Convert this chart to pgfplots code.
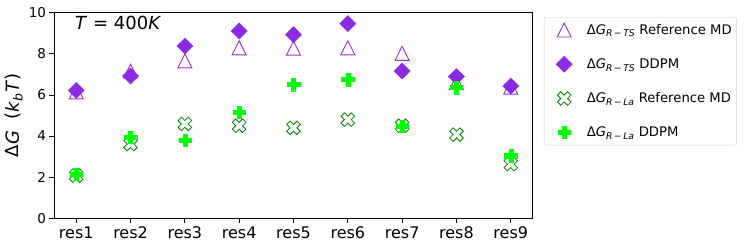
\documentclass[border=0pt]{standalone}
\usepackage{fontspec}
\setmainfont{DejaVu Sans}
\usepackage{pgfplots}
\pgfplotsset{compat=1.18}

\definecolor{tri}{RGB}{153,50,204}
\definecolor{dia}{RGB}{138,43,226}
\definecolor{xg}{RGB}{0,128,0}
\definecolor{pl}{RGB}{0,255,0}

\pgfdeclareplotmark{Pfill}{%
  \pgfpathmoveto{\pgfqpoint{-.3333\pgfplotmarksize}{-\pgfplotmarksize}}%
  \pgfpathlineto{\pgfqpoint{.3333\pgfplotmarksize}{-\pgfplotmarksize}}%
  \pgfpathlineto{\pgfqpoint{.3333\pgfplotmarksize}{-.3333\pgfplotmarksize}}%
  \pgfpathlineto{\pgfqpoint{\pgfplotmarksize}{-.3333\pgfplotmarksize}}%
  \pgfpathlineto{\pgfqpoint{\pgfplotmarksize}{.3333\pgfplotmarksize}}%
  \pgfpathlineto{\pgfqpoint{.3333\pgfplotmarksize}{.3333\pgfplotmarksize}}%
  \pgfpathlineto{\pgfqpoint{.3333\pgfplotmarksize}{\pgfplotmarksize}}%
  \pgfpathlineto{\pgfqpoint{-.3333\pgfplotmarksize}{\pgfplotmarksize}}%
  \pgfpathlineto{\pgfqpoint{-.3333\pgfplotmarksize}{.3333\pgfplotmarksize}}%
  \pgfpathlineto{\pgfqpoint{-\pgfplotmarksize}{.3333\pgfplotmarksize}}%
  \pgfpathlineto{\pgfqpoint{-\pgfplotmarksize}{-.3333\pgfplotmarksize}}%
  \pgfpathlineto{\pgfqpoint{-.3333\pgfplotmarksize}{-.3333\pgfplotmarksize}}%
  \pgfpathclose
  \pgfusepathqfillstroke
}
\pgfdeclareplotmark{Xfill}{%
  \pgftransformrotate{45}%
  \pgfpathmoveto{\pgfqpoint{-.3333\pgfplotmarksize}{-\pgfplotmarksize}}%
  \pgfpathlineto{\pgfqpoint{.3333\pgfplotmarksize}{-\pgfplotmarksize}}%
  \pgfpathlineto{\pgfqpoint{.3333\pgfplotmarksize}{-.3333\pgfplotmarksize}}%
  \pgfpathlineto{\pgfqpoint{\pgfplotmarksize}{-.3333\pgfplotmarksize}}%
  \pgfpathlineto{\pgfqpoint{\pgfplotmarksize}{.3333\pgfplotmarksize}}%
  \pgfpathlineto{\pgfqpoint{.3333\pgfplotmarksize}{.3333\pgfplotmarksize}}%
  \pgfpathlineto{\pgfqpoint{.3333\pgfplotmarksize}{\pgfplotmarksize}}%
  \pgfpathlineto{\pgfqpoint{-.3333\pgfplotmarksize}{\pgfplotmarksize}}%
  \pgfpathlineto{\pgfqpoint{-.3333\pgfplotmarksize}{.3333\pgfplotmarksize}}%
  \pgfpathlineto{\pgfqpoint{-\pgfplotmarksize}{.3333\pgfplotmarksize}}%
  \pgfpathlineto{\pgfqpoint{-\pgfplotmarksize}{-.3333\pgfplotmarksize}}%
  \pgfpathlineto{\pgfqpoint{-.3333\pgfplotmarksize}{-.3333\pgfplotmarksize}}%
  \pgfpathclose
  \pgfusepathqfillstroke
}
\pgfdeclareplotmark{Tri}{%
  \pgfpathmoveto{\pgfqpoint{0pt}{\pgfplotmarksize}}%
  \pgfpathlineto{\pgfqpoint{-\pgfplotmarksize}{-\pgfplotmarksize}}%
  \pgfpathlineto{\pgfqpoint{\pgfplotmarksize}{-\pgfplotmarksize}}%
  \pgfpathclose
  \pgfusepathqfillstroke
}
\pgfdeclareplotmark{Dia}{%
  \pgfpathmoveto{\pgfqpoint{0pt}{\pgfplotmarksize}}%
  \pgfpathlineto{\pgfqpoint{\pgfplotmarksize}{0pt}}%
  \pgfpathlineto{\pgfqpoint{0pt}{-\pgfplotmarksize}}%
  \pgfpathlineto{\pgfqpoint{-\pgfplotmarksize}{0pt}}%
  \pgfpathclose
  \pgfusepathqfillstroke
}

\begin{document}
\begin{tikzpicture}
\begin{axis}[
  scale only axis,
  width=478pt, height=205.6pt,
  xmin=-0.4, xmax=8.4, ymin=0, ymax=10,
  xtick={0,1,2,3,4,5,6,7,8},
  xticklabels={res1,res2,res3,res4,res5,res6,res7,res8,res9},
  ytick={0,2,4,6,8,10},
  xtick pos=bottom, ytick pos=left,
  tick align=outside,
  major tick length=5pt,
  minor tick num=0,
  axis line style={line width=0.8pt},
  every tick/.style={black, line width=0.8pt},
  /pgf/number format/assume math mode=true,
  xticklabel style={font=\fontsize{16}{19}\selectfont},
  yticklabel style={font=\fontsize{13.5}{16}\selectfont},
  ylabel={Δ\textit{G}\ \ (\textit{k}\textsubscript{\textit{b}}\textit{T})},
  every axis y label/.style={at={(axis description cs:-0.0847,0.5)}, rotate=90, anchor=center, font=\fontsize{18}{21}\selectfont},
  legend style={at={(1.024,0.979)}, anchor=north west, draw=black!20, rounded corners=2pt,
    font=\fontsize{13.2}{15.5}\selectfont, row sep=18.5pt, inner xsep=12pt, inner ysep=5pt,
    column sep=12.6pt, cells={anchor=west}},
  legend image code/.code={%
    \draw[mark repeat=2,mark phase=2,#1] plot coordinates {(0pt,0pt)(14pt,0pt)(33pt,0pt)};},
  legend cell align=left,
  clip=false,
]
\addplot[only marks, mark=Tri, mark size=7pt, mark options={draw=tri, fill=white, line width=0.9pt}]
  coordinates {(0,6.15)(1,7.15)(2,7.66)(3,8.29)(4,8.28)(5,8.29)(6,8.02)(7,6.6)(8,6.38)};
\addlegendentry{Δ\textit{G}\textsubscript{\textit{R}\,−\,\textit{TS}} Reference MD\hspace*{-9pt}}
\addplot[only marks, mark=Dia, mark size=8pt, mark options={draw=dia, fill=dia, line width=0.5pt}]
  coordinates {(0,6.22)(1,6.92)(2,8.38)(3,9.11)(4,8.93)(5,9.47)(6,7.16)(7,6.89)(8,6.43)};
\addlegendentry{Δ\textit{G}\textsubscript{\textit{R}\,−\,\textit{TS}} DDPM}
\addplot[only marks, mark=Xfill, mark size=7.2pt, mark options={draw=xg, fill=white, line width=0.8pt}]
  coordinates {(0,2.08)(1,3.61)(2,4.59)(3,4.5)(4,4.4)(5,4.8)(6,4.5)(7,4.07)(8,2.63)};
\addlegendentry{Δ\textit{G}\textsubscript{\textit{R}\,−\,\textit{La}} Reference MD\hspace*{-9pt}}
\addplot[only marks, mark=Pfill, mark size=6.2pt, mark options={draw=pl, fill=pl, line width=0.3pt}]
  coordinates {(0,2.15)(1,3.94)(2,3.81)(3,5.15)(4,6.51)(5,6.75)(6,4.47)(7,6.36)(8,3.05)};
\addlegendentry{Δ\textit{G}\textsubscript{\textit{R}\,−\,\textit{La}} DDPM}
\node[anchor=west, font=\fontsize{18}{21}\selectfont] at (axis description cs:0.036,0.948) {\textit{T} = 400\textit{K}};
\end{axis}
\useasboundingbox (-54.5pt,-30.7pt) rectangle (692.5pt,218.3pt);
\end{tikzpicture}
\end{document}
